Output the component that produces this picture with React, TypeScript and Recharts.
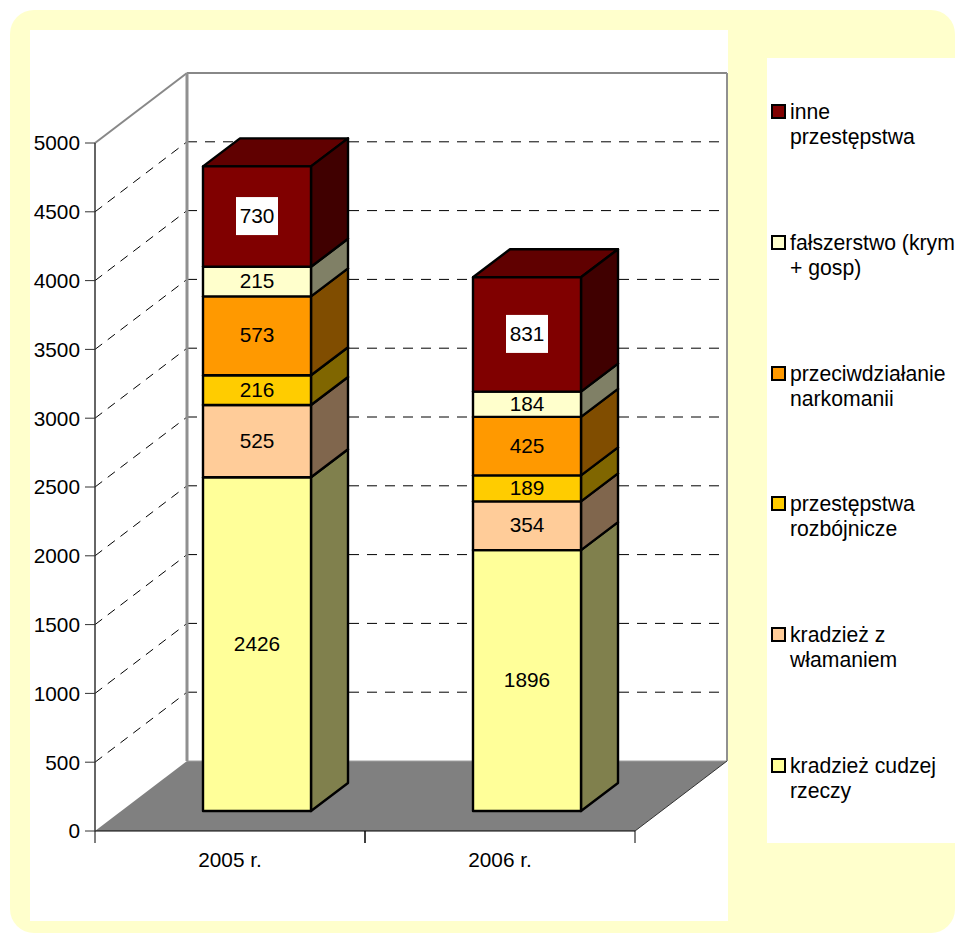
import React from "react";
import { BarChart, Bar, XAxis, YAxis, CartesianGrid, LabelList, Legend } from "recharts";

const categories = ["2005 r.", "2006 r."];
const kradziez = [2426, 1896];
const wlamanie = [525, 354];
const rozboj = [216, 189];
const narkomania = [573, 425];
const falszerstwo = [215, 184];
const inne = [730, 831];
const yTicks = [0, 500, 1000, 1500, 2000, 2500, 3000, 3500, 4000, 4500, 5000];

const seriesDefs = [
  { key: "kradziez", name: "kradzież cudzej\nrzeczy", values: kradziez, color: "#ffff99" },
  { key: "wlamanie", name: "kradzież z\nwłamaniem", values: wlamanie, color: "#ffcc99" },
  { key: "rozboj", name: "przestępstwa\nrozbójnicze", values: rozboj, color: "#ffcc00" },
  { key: "narkomania", name: "przeciwdziałanie\nnarkomanii", values: narkomania, color: "#ff9900" },
  { key: "falszerstwo", name: "fałszerstwo (krym\n+ gosp)", values: falszerstwo, color: "#ffffcc" },
  { key: "inne", name: "inne\nprzestępstwa", values: inne, color: "#800000" },
];

const data = categories.map((c, i) => {
  const row: Record<string, string | number> = { category: c };
  seriesDefs.forEach((s) => {
    row[s.key] = s.values[i];
  });
  return row;
});

const FONT = "'Liberation Sans', Arial, sans-serif";
const FS = 20.8;
const CW = 955;
const CH = 933;
const M = { top: 143, right: 320, bottom: 0, left: 0 };
const YW = 95;
const XH = 102;
const BAND = (CW - M.right - YW) / categories.length;

// 3-D projection offsets
const WALL_DX = 92;
const WALL_DY = -70;
const BAR_DX = 27;
const BAR_DY = -20;
const SIDE_DX = 37;
const SIDE_DY = -28;

const shade = (hex: string, f: number) => {
  const n = parseInt(hex.slice(1), 16);
  const c = [(n >> 16) & 255, (n >> 8) & 255, n & 255].map((v) => Math.round(v * f));
  return `rgb(${c[0]},${c[1]},${c[2]})`;
};

const Box = (p: any) => {
  const x = p.x + BAR_DX;
  const y = p.y + BAR_DY;
  const w = p.width;
  const h = p.height;
  const pts = (a: number[][]) => a.map((q) => q.join(",")).join(" ");
  const common = { stroke: "#000", strokeWidth: 2.4, strokeLinejoin: "round" as const };
  return (
    <g>
      <polygon
        points={pts([[x, y], [x + SIDE_DX, y + SIDE_DY], [x + w + SIDE_DX, y + SIDE_DY], [x + w, y]])}
        fill={shade(p.fill, 0.75)}
        {...common}
      />
      <polygon
        points={pts([[x + w, y], [x + w + SIDE_DX, y + SIDE_DY], [x + w + SIDE_DX, y + h + SIDE_DY], [x + w, y + h]])}
        fill={shade(p.fill, 0.5)}
        {...common}
      />
      <rect x={x} y={y} width={w} height={h} fill={p.fill} {...common} />
    </g>
  );
};

const makeLabel = (boxed: boolean) => (p: any) => {
  const cx = p.x + p.width / 2 + BAR_DX;
  const cy = p.y + p.height / 2 + BAR_DY;
  return (
    <g>
      {boxed && <rect x={cx - 21} y={cy - 19.5} width={42} height={38} fill="#fff" />}
      <text x={cx} y={cy - 1} dy="0.36em" textAnchor="middle" fontFamily={FONT} fontSize={FS} fill="#000">
        {p.value}
      </text>
    </g>
  );
};

const gridLine = (p: any) => {
  const { x1, x2, y1 } = p;
  const bx = x1 + WALL_DX;
  const by = y1 + WALL_DY;
  const bx2 = x2 + WALL_DX;
  const isFloor = Math.abs(y1 - (CH - XH)) < 1;
  const isTop = Math.abs(y1 - M.top) < 1;
  if (isFloor) {
    return (
      <g key={p.key}>
        <polygon points={`${x1},${y1} ${x2},${y1} ${bx2},${by} ${bx},${by}`} fill="#808080" />
        <line x1={bx} y1={by} x2={bx2} y2={by} stroke="#a0a0a0" strokeWidth={1} />
        <line x1={x2} y1={y1} x2={bx2} y2={by} stroke="#333" strokeWidth={1} />
      </g>
    );
  }
  if (isTop) {
    return (
      <g key={p.key}>
        <line x1={x1} y1={y1} x2={bx} y2={by} stroke="#888" strokeWidth={2} />
        <line x1={bx} y1={by} x2={bx2} y2={by} stroke="#888" strokeWidth={2} />
        <line x1={bx} y1={by} x2={bx} y2={CH - XH + WALL_DY} stroke="#909090" strokeWidth={3} />
        <line x1={bx2} y1={by} x2={bx2} y2={CH - XH + WALL_DY} stroke="#909090" strokeWidth={2} />
      </g>
    );
  }
  return (
    <g key={p.key}>
      <line x1={x1} y1={y1} x2={bx} y2={by} stroke="#000" strokeWidth={1} strokeDasharray="9 7" />
      <line x1={bx} y1={by} x2={bx2} y2={by} stroke="#000" strokeWidth={1} strokeDasharray="10 8" />
    </g>
  );
};

const XTick = (p: any) => {
  const { x, y, payload } = p;
  return (
    <g>
      <line x1={x - BAND / 2} y1={y} x2={x - BAND / 2} y2={y + 12} stroke="#000" strokeWidth={1} />
      <line x1={x + BAND / 2} y1={y} x2={x + BAND / 2} y2={y + 12} stroke="#000" strokeWidth={1} />
      <text x={x} y={y + 29} dy="0.36em" textAnchor="middle" fontFamily={FONT} fontSize={FS} fill="#000">
        {payload.value}
      </text>
    </g>
  );
};

const LegendContent = (p: any) => {
  const items = [...(p.payload || [])].reverse();
  return (
    <div style={{ position: "relative", width: 188, height: 785, background: "#fff", overflow: "hidden" }}>
      {items.map((it: any, i: number) => (
        <div
          key={it.value}
          style={{
            position: "absolute",
            left: 4,
            top: 41 + i * 130.8,
            display: "flex",
            alignItems: "flex-start",
            whiteSpace: "pre",
            fontFamily: FONT,
            fontSize: 21.2,
            lineHeight: "25px",
            color: "#000",
          }}
        >
          <span
            style={{
              display: "block",
              boxSizing: "border-box",
              width: 15,
              height: 15,
              marginTop: 5,
              marginRight: 4,
              background: it.color,
              border: "2.5px solid #000",
              flex: "none",
            }}
          />
          <span>{it.value}</span>
        </div>
      ))}
    </div>
  );
};

export default function App() {
  return (
    <div style={{ position: "absolute", left: 0, top: 0, width: CW, height: CH, overflow: "hidden", background: "#fff" }}>
      <div style={{ position: "absolute", left: 10, top: 10, width: 945, height: 923, background: "#ffffcc", borderRadius: 24 }} />
      <div style={{ position: "absolute", left: 30, top: 30, width: 698, height: 891, background: "#fff" }} />
      <BarChart
        width={CW}
        height={CH}
        data={data}
        margin={M}
        barCategoryGap="30%"
        style={{ position: "absolute", left: 0, top: 0 }}
      >
        <CartesianGrid vertical={false} horizontal={gridLine} />
        <XAxis
          dataKey="category"
          height={XH}
          axisLine={{ stroke: "#000", strokeWidth: 1 }}
          tickLine={false}
          tickSize={0}
          tickMargin={0}
          tick={XTick}
          interval={0}
        />
        <YAxis
          width={YW}
          domain={[0, 5000]}
          ticks={yTicks}
          interval={0}
          tickSize={10}
          tickMargin={5}
          axisLine={{ stroke: "#333", strokeWidth: 1.5 }}
          tickLine={{ stroke: "#333", strokeWidth: 1 }}
          tick={{ fontFamily: FONT, fontSize: FS, fill: "#000" }}
        />
        {seriesDefs.map((s, i) => (
          <Bar
            key={s.key}
            dataKey={s.key}
            name={s.name}
            stackId="a"
            fill={s.color}
            shape={Box}
            isAnimationActive={false}
          >
            <LabelList dataKey={s.key} content={makeLabel(i === seriesDefs.length - 1)} />
          </Bar>
        ))}
        <Legend
          layout="vertical"
          align="center"
          verticalAlign="middle"
          itemSorter={null}
          content={LegendContent}
          wrapperStyle={{ left: 767, top: 58, width: 188, height: 785 }}
        />
      </BarChart>
    </div>
  );
}
